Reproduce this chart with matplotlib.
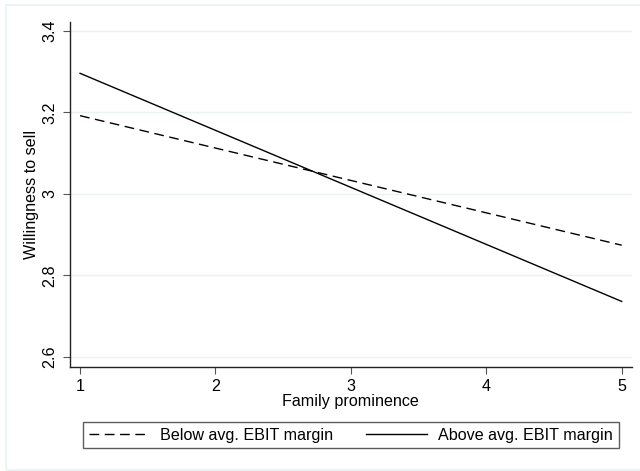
import matplotlib.pyplot as plt
from matplotlib.patches import Rectangle

plt.rcParams['font.family'] = ['Liberation Sans', 'DejaVu Sans']

# data
prominence = [1, 5]
below_avg = [3.192, 2.874]
above_avg = [3.296, 2.736]
yticks = [2.6, 2.8, 3.0, 3.2, 3.4]
ytick_labels = ['2.6', '2.8', '3', '3.2', '3.4']
xticks = [1, 2, 3, 4, 5]

fig = plt.figure(figsize=(6.4, 4.71), dpi=100)
fig.patches.append(Rectangle((6 / 640, 1 / 471), 1.0, 1 - 6 / 471, transform=fig.transFigure,
                             fill=False, edgecolor='#eaf2f3', linewidth=1.2))
ax = fig.add_axes([0.1086, 0.2208, 0.8789, 0.7325])

for y in yticks:
    ax.axhline(y, color='#eaf2f3', linewidth=1.0, zorder=0)

l1, = ax.plot(prominence, below_avg, color='black', linewidth=1.0, dashes=(7, 4),
              label='Below avg. EBIT margin')
l2, = ax.plot(prominence, above_avg, color='black', linewidth=1.0,
              label='Above avg. EBIT margin')

ax.set_xlim(0.922, 5.076)
ax.set_ylim(2.575, 3.422)
ax.set_xticks(xticks)
ax.set_yticks(yticks)
ax.set_yticklabels(ytick_labels, rotation=90, va='center')
ax.tick_params(axis='both', labelsize=11.6, length=5, width=0.8, color='#555555')
ax.spines['top'].set_visible(False)
ax.spines['right'].set_visible(False)
for s in ['left', 'bottom']:
    ax.spines[s].set_color('#222222')
    ax.spines[s].set_linewidth(1.0)

ax.set_xlabel('Family prominence', fontsize=11.6, labelpad=0)
ax.set_ylabel('Willingness to sell', fontsize=11.6, labelpad=3)

leg = fig.legend(handles=[l1, l2], loc='center', bbox_to_anchor=(0.548, 0.0764), ncol=2,
                 fontsize=11.6, handlelength=3.75, columnspacing=2.05, frameon=True,
                 fancybox=False, borderpad=0.35, handletextpad=0.7)
leg.get_frame().set_edgecolor('#333333')
leg.get_frame().set_linewidth(1.0)

plt.savefig('out.png', dpi=100)
